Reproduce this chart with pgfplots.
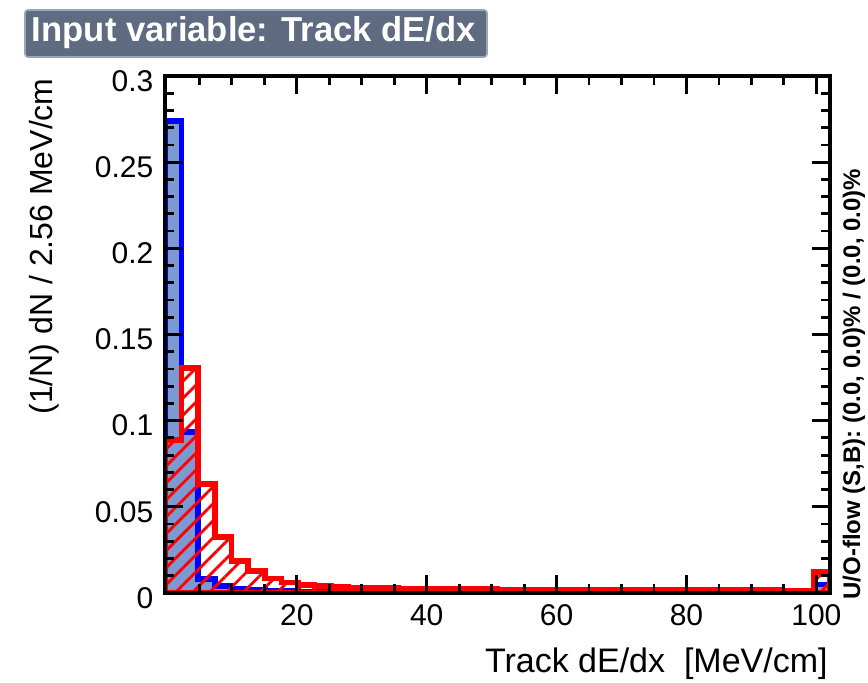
\documentclass[border=0pt]{standalone}
\usepackage{fontspec}
\setmainfont{Liberation Sans}
\usepackage{pgfplots}
\pgfplotsset{compat=1.18}
\usepackage{pgfplotstable}
\usetikzlibrary{patterns.meta}
\definecolor{sigfill}{rgb}{0.49,0.60,0.82}
\definecolor{titlebg}{HTML}{5E6B80}
\definecolor{titleedge}{HTML}{9AA6B5}

% bin left edges (width 2.56), signal / background, normalised
\pgfplotstableread{
x      sig    bkg
-0.30  0.2740 0.0887
2.26   0.0934 0.1305
4.82   0.0080 0.0632
7.38   0.0040 0.0324
9.94   0.0025 0.0187
12.50  0.0018 0.0127
15.06  0.0013 0.0083
17.62  0.0010 0.0060
20.18  0.0008 0.0046
22.74  0.0007 0.0040
25.30  0.0006 0.0036
27.86  0.0005 0.0033
30.42  0.0004 0.0030
32.98  0.0004 0.0028
35.54  0.0003 0.0026
38.10  0.0003 0.0025
40.66  0.0002 0.0024
43.22  0.0002 0.0023
45.78  0.0002 0.0022
48.34  0.0002 0.0022
50.90  0.0002 0.0021
53.46  0.0002 0.0021
56.02  0.0001 0.0020
58.58  0.0001 0.0020
61.14  0.0001 0.0019
63.70  0.0001 0.0019
66.26  0.0001 0.0019
68.82  0.0001 0.0018
71.38  0.0001 0.0018
73.94  0.0001 0.0018
76.50  0.0001 0.0017
79.06  0.0001 0.0017
81.62  0.0001 0.0017
84.18  0.0001 0.0016
86.74  0.0001 0.0016
89.30  0.0001 0.0016
91.86  0.0001 0.0016
94.42  0.0001 0.0015
96.98  0.0001 0.0015
99.54  0.0050 0.0122
102.10 0.0050 0.0122
}\dedx

\begin{document}
\begin{tikzpicture}[x=1pt,y=1pt]
\useasboundingbox (0,0) rectangle (434,341.5);

% title box
\draw[fill=titlebg, draw=titleedge, line width=0.8pt, rounded corners=1.5pt]
  (12.5,313) rectangle (243.5,336.5);
\node[anchor=base west, inner sep=0, text=white,
      font=\bfseries\fontsize{17.3}{20}\selectfont] at (15.8,320.5)
  {Input variable: Track dE/dx};

\begin{axis}[
  at={(82.5pt,45pt)}, anchor=south west,
  scale only axis, width=332.5pt, height=258.5pt,
  xmin=-0.3, xmax=102.1, ymin=0, ymax=0.3,
  axis on top,
  axis line style={line width=2pt},
  tick style={black, line width=1.4pt},
  tick align=inside,
  major tick length=9pt, minor tick length=4.5pt,
  xtick={20,40,60,80,100},
  minor xtick={5,10,...,100},
  ytick={0,0.05,0.1,0.15,0.2,0.25,0.3},
  minor ytick={0,0.01,...,0.3},
  scaled y ticks=false,
  tick label style={font=\fontsize{15}{18}\selectfont,
    /pgf/number format/assume math mode=true},
  yticklabel style={/pgf/number format/fixed,
    /pgf/number format/precision=2, xshift=-2.3pt, yshift=-2.5pt},
  xticklabel style={yshift=-2.3pt},
]
  \addplot[const plot, fill=sigfill, draw=blue, line width=2.8pt]
    table[x=x, y=sig] {\dedx} \closedcycle;
  \addplot[const plot, draw=red, line width=2.8pt,
    pattern={Lines[angle=45, distance=6pt, line width=1.4pt]},
    pattern color=red]
    table[x=x, y=bkg] {\dedx} \closedcycle;
\end{axis}

\node[rotate=90, anchor=base east, inner sep=0,
      font=\fontsize{16}{19}\selectfont] at (26.5,302.5)
  {(1/N) dN / 2.56 MeV/cm};
\node[anchor=base east, inner sep=0,
      font=\fontsize{17}{20}\selectfont] at (414,5)
  {Track dE/dx\ \ [MeV/cm]};
\node[rotate=90, anchor=base west, inner sep=0,
      font=\bfseries\fontsize{12}{14}\selectfont] at (430,41.5)
  {U/O-flow (S,B): (0.0, 0.0)\% / (0.0, 0.0)\%};
\end{tikzpicture}
\end{document}
